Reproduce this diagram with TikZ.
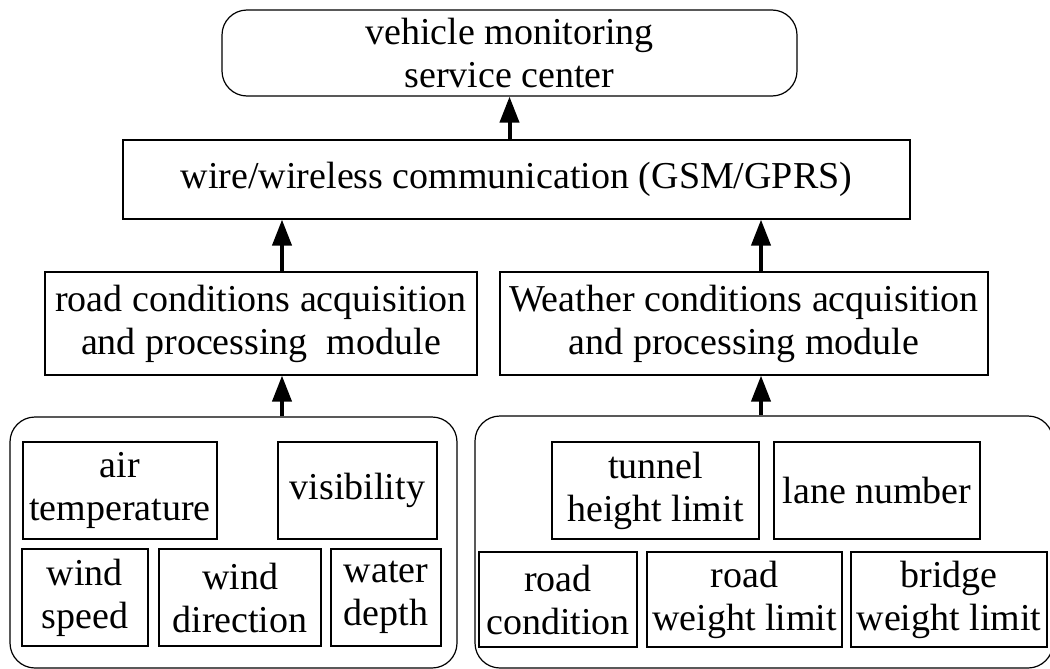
\documentclass[tikz,border=0pt]{standalone}
\usepackage{fontspec}
\setmainfont{Liberation Serif}
\usetikzlibrary{arrows.meta}

\begin{document}
\begin{tikzpicture}[x=0.5pt, y=-0.5pt, line width=0.6pt, main box/.style={draw,rectangle,align=center,inner sep=0pt,font=\fontsize{19}{21.5}\selectfont}, round box/.style={main box,rounded corners=12.5pt}, arr/.style={-{Triangle[length=13pt,width=9.5pt]},line width=2pt}]%px grid
\useasboundingbox (0,0) rectangle (1050,669);
\begin{scope}
\node[round box, minimum width=287.5pt, minimum height=43pt] (center) at (509.5,53) {vehicle monitoring\\service center};
\node[main box, minimum width=393.5pt, minimum height=39.5pt] (comm) at (516.5,179.5) {wire/wireless communication (GSM/GPRS)};
\node[main box, minimum width=216pt, minimum height=51.5pt] (roadmod) at (261,323.5) {road conditions acquisition\\and processing\ \ module};
\node[main box, minimum width=244pt, minimum height=51.5pt] (weathermod) at (744,323.5) {Weather conditions acquisition\\and processing module};
\node[round box, minimum width=223.5pt, minimum height=125.5pt] (weathergrp) at (233.5,542.5) {};
\node[round box, minimum width=289pt, minimum height=126pt] (roadgrp) at (764,542) {};
\end{scope}
\begin{scope}[every node/.style={main box, minimum height=48.5pt}]
\node[minimum width=97pt] (air) at (120,490.5) {air\\temperature};
\node[minimum width=79.5pt] (vis) at (357.5,490.5) {visibility};
\node[minimum width=63pt] (wspeed) at (85,597.5) {wind\\speed};
\node[minimum width=81pt] (wdir) at (240,597.5) {wind\\direction};
\node[minimum width=55pt] (water) at (386,597.5) {water\\depth};
\node[minimum width=103.5pt] (tunnel) at (655.5,490.5) {tunnel\\height limit};
\node[minimum width=103pt] (lane) at (877,490.5) {lane number};
\node[minimum width=79pt, minimum height=47.5pt] (rcond) at (558,599.5) {road\\condition};
\node[minimum width=97.5pt, minimum height=47.5pt] (rweight) at (744.5,599.5) {road\\weight limit};
\node[minimum width=98pt, minimum height=47.5pt] (bweight) at (949,599.5) {bridge\\weight limit};
%\node (x) at (,) {};
\end{scope}
\begin{scope}
\draw[arr] (comm.north -| center.south) -- (center.south);
\draw[arr] ([xshift=10.5pt]roadmod.north) -- ([xshift=10.5pt]roadmod.north |- comm.south);
\draw[arr] ([xshift=8.5pt]weathermod.north) -- ([xshift=8.5pt]weathermod.north |- comm.south);
\draw[arr] ([xshift=10.5pt]roadmod.south |- weathergrp.north) -- ([xshift=10.5pt]roadmod.south);
\draw[arr] ([xshift=8.5pt]weathermod.south |- roadgrp.north) -- ([xshift=8.5pt]weathermod.south);
\end{scope}
\end{tikzpicture}
\end{document}
